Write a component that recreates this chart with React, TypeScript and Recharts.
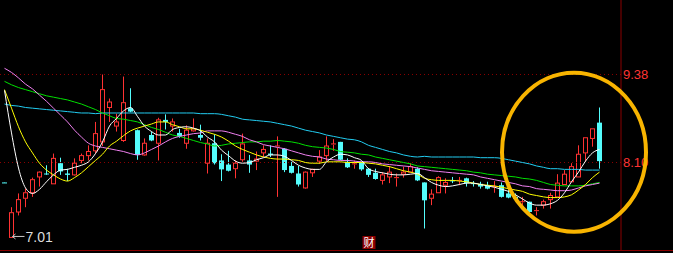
import {
  Bar,
  ComposedChart,
  Customized,
  Line,
  ReferenceDot,
  ReferenceLine,
  XAxis,
  YAxis,
} from "recharts";

const opens = [
  7.81, 7.01, 7.38, 7.58, 7.66, 7.89, 7.94, 7.79, 8.09, 7.94,
  7.92, 8.13, 8.2, 8.27, 8.4, 8.9, 8.63, 8.42, 8.89, 8.57,
  8.21, 8.5, 8.38, 8.72, 8.63, 8.53, 8.38, 8.56, 8.5, 8.09,
  8.38, 8.13, 8.07, 8.01, 8.14, 8.13, 8.12, 8.24, 8.23, 8.32,
  8.3, 8.05, 7.94, 7.73, 7.95, 8.12, 8.2, 8.36, 8.4, 8.11,
  8.07, 8.11, 8.01, 7.95, 7.84, 7.89, 7.87, 7.93, 7.96, 8.01,
  7.81, 7.58, 7.66, 7.77, 7.84, 7.83, 7.87, 7.8, 7.79, 7.77,
  7.74, 7.77, 7.65, 7.6, 7.52, 7.53, 7.39, 7.48, 7.56, 7.6,
  7.78, 7.82, 7.89, 8.24, 8.45, 8.68,
];
const highs = [
  7.81, 7.45, 7.65, 7.72, 7.88, 7.97, 8.06, 8.23, 8.17, 8.01,
  8.16, 8.23, 8.35, 8.69, 9.38, 9.03, 8.81, 9.35, 9.18, 8.58,
  8.45, 8.55, 8.75, 8.8, 8.74, 8.59, 8.64, 8.74, 8.65, 8.45,
  8.51, 8.22, 8.27, 8.13, 8.52, 8.21, 8.26, 8.35, 8.35, 8.48,
  8.31, 8.11, 8.05, 7.97, 8.01, 8.28, 8.48, 8.44, 8.4, 8.16,
  8.13, 8.11, 8.02, 8.01, 7.96, 8.05, 7.94, 8.04, 8.09, 8.03,
  7.81, 7.71, 7.9, 7.87, 7.89, 7.89, 7.88, 7.83, 7.82, 7.82,
  7.83, 7.81, 7.71, 7.65, 7.6, 7.53, 7.45, 7.56, 7.66, 7.93,
  7.99, 8.09, 8.35, 8.46, 8.59, 8.9,
];
const lows = [
  7.805, 7.01, 7.33, 7.45, 7.6, 7.75, 7.92, 7.79, 7.92, 7.83,
  7.91, 8.09, 8.13, 8.23, 8.34, 8.69, 8.55, 8.4, 8.83, 8.14,
  8.2, 8.41, 8.13, 8.58, 8.55, 8.46, 8.3, 8.55, 8.42, 7.94,
  8.07, 7.83, 7.97, 7.87, 8.11, 7.95, 7.99, 8.18, 8.18, 7.6,
  7.96, 7.94, 7.75, 7.72, 7.89, 8.08, 8.12, 8.27, 8.13, 8.02,
  8.01, 7.98, 7.89, 7.85, 7.78, 7.8, 7.75, 7.88, 7.95, 7.83,
  7.14, 7.48, 7.66, 7.65, 7.8, 7.77, 7.75, 7.75, 7.72, 7.71,
  7.66, 7.59, 7.58, 7.55, 7.45, 7.37, 7.33, 7.43, 7.43, 7.6,
  7.78, 7.82, 7.89, 8.11, 8.33, 8.01,
];
const closes = [
  7.805, 7.37, 7.56, 7.66, 7.85, 7.96, 7.93, 8.16, 7.97, 7.92,
  8.09, 8.2, 8.26, 8.52, 9.16, 8.98, 8.69, 8.97, 8.84, 8.21,
  8.38, 8.42, 8.72, 8.69, 8.69, 8.48, 8.57, 8.59, 8.46, 8.38,
  8.09, 8.0, 7.98, 8.09, 8.37, 8.07, 8.15, 8.29, 8.21, 8.34,
  7.99, 7.95, 7.78, 7.96, 8.0, 8.18, 8.34, 8.37, 8.14, 8.03,
  8.08, 8.0, 7.92, 7.86, 7.92, 7.96, 7.88, 7.96, 8.04, 7.84,
  7.55, 7.64, 7.88, 7.81, 7.83, 7.84, 7.8, 7.79, 7.75, 7.72,
  7.75, 7.6, 7.59, 7.57, 7.53, 7.38, 7.4, 7.53, 7.62, 7.8,
  7.93, 8.04, 8.22, 8.46, 8.59, 8.12,
];

const ma5 = [
  9.15, 8.53, 8.02, 7.73, 7.65, 7.71, 7.82, 7.92, 7.99, 8.0,
  8.03, 8.06, 8.11, 8.23, 8.4, 8.63, 8.74, 8.85, 8.9, 8.77,
  8.63, 8.55, 8.5, 8.5, 8.58, 8.61, 8.62, 8.6, 8.56, 8.47,
  8.4, 8.28, 8.2, 8.12, 8.09, 8.1, 8.14, 8.17, 8.21, 8.21,
  8.19, 8.13, 8.06, 8.02, 8.0, 8.0, 8.11, 8.18, 8.22, 8.21,
  8.17, 8.13, 8.01, 7.97, 7.95, 7.93, 7.92, 7.92, 7.93, 7.94,
  7.88, 7.81, 7.77, 7.75, 7.76, 7.78, 7.8, 7.8, 7.78, 7.76,
  7.74, 7.71, 7.68, 7.63, 7.57, 7.51, 7.48, 7.48, 7.5, 7.55,
  7.66, 7.82, 7.96, 8.12, 8.24, 8.29,
];
const ma10 = [
  9.16, 8.89, 8.62, 8.4, 8.24, 8.09, 7.99, 7.92, 7.86, 7.83,
  7.88, 7.95, 8.04, 8.13, 8.22, 8.34, 8.41, 8.49, 8.56, 8.6,
  8.63, 8.66, 8.69, 8.69, 8.65, 8.62, 8.59, 8.59, 8.57, 8.54,
  8.51, 8.47, 8.41, 8.34, 8.29, 8.25, 8.21, 8.18, 8.16, 8.15,
  8.15, 8.14, 8.13, 8.1, 8.09, 8.09, 8.11, 8.11, 8.11, 8.1,
  8.1, 8.1, 8.09, 8.08, 8.06, 8.04, 8.01, 7.98, 7.96, 7.93,
  7.87, 7.85, 7.84, 7.84, 7.84, 7.83, 7.82, 7.8, 7.78, 7.77,
  7.76, 7.74, 7.72, 7.7, 7.68, 7.64, 7.62, 7.6, 7.59, 7.59,
  7.6, 7.63, 7.7, 7.78, 7.88, 7.96,
];
const ma20 = [
  9.47, 9.41, 9.33, 9.24, 9.17, 9.08, 8.99, 8.89, 8.79, 8.69,
  8.57, 8.47, 8.38, 8.34, 8.32, 8.3, 8.28, 8.26, 8.23, 8.21,
  8.24, 8.29, 8.34, 8.4, 8.45, 8.48, 8.5, 8.52, 8.53, 8.56,
  8.56, 8.56, 8.54, 8.51, 8.48, 8.43, 8.4, 8.36, 8.34, 8.32,
  8.3, 8.27, 8.24, 8.21, 8.19, 8.18, 8.15, 8.14, 8.13, 8.13,
  8.12, 8.11, 8.11, 8.1, 8.08, 8.07, 8.06, 8.05, 8.04, 8.02,
  8.0, 7.98, 7.97, 7.96, 7.95, 7.94, 7.93, 7.92, 7.89, 7.87,
  7.85, 7.83, 7.81, 7.79, 7.76, 7.75, 7.72, 7.71, 7.7, 7.69,
  7.69, 7.7, 7.73, 7.76, 7.78, 7.8,
];
const ma30 = [
  9.28, 9.23, 9.19, 9.16, 9.13, 9.1, 9.07, 9.05, 9.03, 9.01,
  8.98, 8.95, 8.91, 8.87, 8.82, 8.78, 8.74, 8.73, 8.71, 8.69,
  8.65, 8.61, 8.58, 8.54, 8.5, 8.48, 8.45, 8.42, 8.39, 8.37,
  8.34, 8.35, 8.37, 8.38, 8.39, 8.4, 8.4, 8.41, 8.41, 8.42,
  8.41, 8.4, 8.38, 8.35, 8.33, 8.32, 8.31, 8.29, 8.26, 8.25,
  8.24, 8.22, 8.21, 8.18, 8.16, 8.14, 8.12, 8.1, 8.08, 8.05,
  8.04, 8.03, 8.02, 8.01, 8.0, 7.99, 7.98, 7.96, 7.95, 7.93,
  7.92, 7.91, 7.9, 7.89, 7.87, 7.86, 7.84, 7.81, 7.78, 7.77,
  7.76, 7.76, 7.76, 7.77, 7.79, 7.81,
];
const ma60 = [
  8.95, 8.93, 8.92, 8.9, 8.89, 8.88, 8.87, 8.86, 8.85, 8.84,
  8.83, 8.82, 8.82, 8.81, 8.82, 8.82, 8.82, 8.82, 8.82, 8.82,
  8.82, 8.82, 8.82, 8.82, 8.82, 8.82, 8.82, 8.82, 8.81, 8.81,
  8.81, 8.8, 8.78, 8.76, 8.73, 8.72, 8.71, 8.7, 8.69, 8.67,
  8.65, 8.63, 8.6, 8.57, 8.55, 8.53, 8.5, 8.48, 8.46, 8.44,
  8.43, 8.4, 8.35, 8.32, 8.29, 8.26, 8.24, 8.21, 8.19, 8.18,
  8.19, 8.18, 8.18, 8.18, 8.18, 8.18, 8.18, 8.18, 8.17, 8.17,
  8.17, 8.16, 8.14, 8.12, 8.1, 8.08, 8.05, 8.03, 8.01, 8.01,
  8.0, 8.0, 8.0, 7.99, 7.99, 7.99,
];

const priceMarks = [9.38, 8.1];
const lowMark = { idx: 1, price: 7.01 };
const newsIdx = 52;
const newsText = "财";
const focus = { idx: 81, price: 8.25 };

const UP = "#ff3232";
const DOWN = "#54fcfc";
const FRAME = "#8a0000";
const DOMAIN: [number, number] = [6.8273, 10.4636];

const rows = opens.map((o, i) => ({
  idx: i,
  open: o,
  high: highs[i],
  low: lows[i],
  close: closes[i],
  ma5: ma5[i],
  ma10: ma10[i],
  ma20: ma20[i],
  ma30: ma30[i],
  ma60: ma60[i],
}));

const averages = [
  { key: "ma60", color: "#22ccf0" },
  { key: "ma30", color: "#00e000" },
  { key: "ma20", color: "#f080f0" },
  { key: "ma10", color: "#ffff00" },
  { key: "ma5", color: "#ffffff" },
];

function Candle(props: any) {
  const { x, y, width, height, payload } = props;
  if (x == null || y == null) return null;
  const { open, close, high, low } = payload;
  const top = Math.min(y, y + height);
  const span = Math.abs(height);
  const unit = high > low ? span / (high - low) : 0;
  const py = (v: number) => top + (high - v) * unit;
  const c = Math.round(x + width / 2 - 0.5) + 0.5;
  if (close >= open) {
    const bt = py(close);
    const bb = py(open);
    const h = bb - bt;
    return (
      <g>
        <line x1={c} x2={c} y1={py(high)} y2={bt} stroke={UP} />
        <line x1={c} x2={c} y1={bb} y2={py(low)} stroke={UP} />
        {h < 1.5 ? (
          <line x1={c - 2.5} x2={c + 2.5} y1={bt} y2={bt} stroke={UP} />
        ) : (
          <rect x={c - 2} y={bt} width={4} height={h} fill="#000" stroke={UP} />
        )}
      </g>
    );
  }
  const bt = py(open);
  const bb = py(close);
  return (
    <g>
      <line x1={c} x2={c} y1={py(high)} y2={py(low)} stroke={DOWN} />
      <rect x={c - 2.5} y={bt} width={5} height={Math.max(bb - bt, 1)} fill={DOWN} />
    </g>
  );
}

const PriceLabel = ({ viewBox, value }: any) => (
  <text
    x={viewBox.x + viewBox.width + 2}
    y={viewBox.y}
    dy={4.5}
    fill="#ff3434"
    fontSize={13}
    fontFamily="'Liberation Sans', Arial, sans-serif"
  >
    {Number(value).toFixed(2)}
  </text>
);

const LowLabel = ({ cx, cy }: any) => (
  <g>
    <line x1={cx + 1} x2={cx + 13} y1={cy - 1} y2={cy - 1} stroke="#c8c8c8" />
    <polyline
      points={`${cx + 4},${cy - 3.5} ${cx + 1},${cy - 1} ${cx + 4},${cy + 1.5}`}
      fill="none"
      stroke="#c8c8c8"
    />
    <text
      x={cx + 14}
      y={cy + 4.5}
      fill="#dcdcdc"
      fontSize={14}
      fontFamily="'Liberation Sans', Arial, sans-serif"
    >
      {lowMark.price.toFixed(2)}
    </text>
  </g>
);

const NewsTag = ({ cx, cy }: any) => (
  <g>
    <rect x={cx - 6} y={cy - 14} width={13} height={13} fill="#8c0000" />
    <text
      x={cx + 0.5}
      y={cy - 3.5}
      textAnchor="middle"
      fill="#ffffff"
      fontSize={11}
      fontFamily="'Noto Sans CJK SC', sans-serif"
    >
      {newsText}
    </text>
  </g>
);

const Ring = ({ cx, cy }: any) => (
  <ellipse
    cx={cx + 2.5}
    cy={cy}
    rx={72}
    ry={79.5}
    fill="none"
    stroke="#f8b400"
    strokeWidth={4}
  />
);

export default function App() {
  return (
    <div
      style={{
        position: "fixed",
        left: 0,
        top: 0,
        width: 673,
        height: 253,
        background: "#000",
      }}
    >
      <ComposedChart
        width={673}
        height={253}
        data={rows}
        margin={{ top: 0, right: 0, bottom: 3, left: 0 }}
      >
        <XAxis dataKey="idx" type="category" hide padding={{ left: 1, right: 18 }} />
        <YAxis
          orientation="right"
          type="number"
          width={52}
          domain={DOMAIN}
          allowDataOverflow
          axisLine={{ stroke: FRAME }}
          tickLine={false}
          tick={false}
        />
        {priceMarks.map((p) => (
          <ReferenceLine
            key={p}
            y={p}
            stroke={FRAME}
            strokeDasharray="1 3"
            label={<PriceLabel value={p} />}
          />
        ))}
        <Bar
          dataKey={(d: any) => [d.low, d.high]}
          barSize={5}
          shape={<Candle />}
          isAnimationActive={false}
        />
        {averages.map((a) => (
          <Line
            key={a.key}
            dataKey={a.key}
            type="monotone"
            stroke={a.color}
            strokeWidth={1}
            dot={false}
            activeDot={false}
            isAnimationActive={false}
          />
        ))}
        <ReferenceDot x={lowMark.idx} y={lowMark.price} shape={<LowLabel />} ifOverflow="visible" />
        <ReferenceDot x={newsIdx} y={DOMAIN[0]} shape={<NewsTag />} ifOverflow="visible" />
        <ReferenceDot x={focus.idx} y={focus.price} shape={<Ring />} ifOverflow="visible" />
        <Customized
          component={() => (
            <line x1={0} x2={673} y1={250.5} y2={250.5} stroke={FRAME} />
          )}
        />
      </ComposedChart>
    </div>
  );
}
